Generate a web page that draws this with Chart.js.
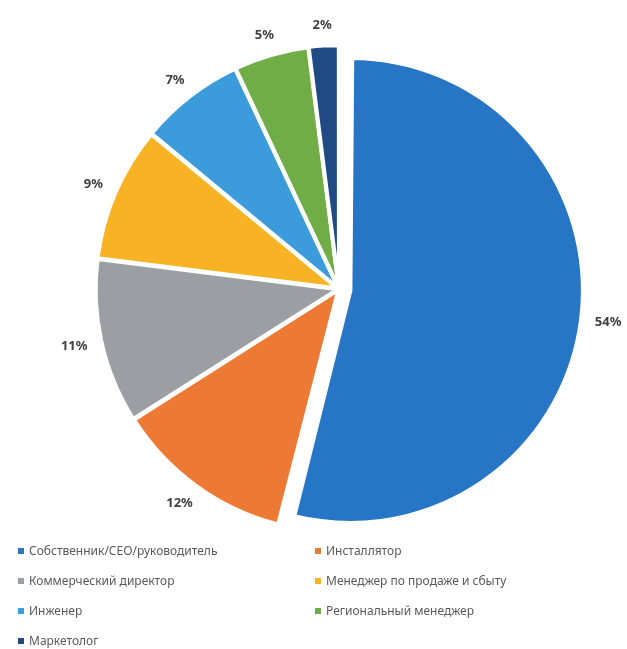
<!DOCTYPE html>
<html>
<head>
<meta charset="utf-8">
<script src="https://cdn.jsdelivr.net/npm/chart.js@4/dist/chart.umd.min.js"></script>
<style>
  body { margin: 0; background: #fff; }
  #wrap { position: relative; width: 627px; height: 649px; }
  #legend { position: absolute; left: 18px; top: 541px; width: 600px; display: grid; grid-template-columns: 297px 300px; row-gap: 11px; font-family: "Noto Sans", sans-serif; font-size: 12px; color: #595959; }
  #legend div { display: flex; align-items: center; height: 19px; }
  #legend span { display: inline-block; width: 6px; height: 6px; margin-right: 5px; }
</style>
</head>
<body>
<div id="wrap">
  <canvas id="pieChart"></canvas>
  <div id="legend"></div>
</div>
<script>
const labels = ['Собственник/CEO/руководитель', 'Инсталлятор', 'Коммерческий директор', 'Менеджер по продаже и сбыту', 'Инженер', 'Региональный менеджер', 'Маркетолог'];
const shares = [54, 12, 11, 9, 7, 5, 2];
const colors = ['#2775c5', '#ec7a34', '#9b9ea2', '#f7b324', '#3c9cdb', '#70ad47', '#1f4a84'];
const offsets = [46, 4, 4, 4, 4, 4, 4];

// выдвинутый сектор в оригинале чуть меньше остальных
const shrinkExploded = {
    id: 'shrinkExploded',
    afterDatasetUpdate(chart) {
        const arc = chart.getDatasetMeta(0).data[0];
        if (arc) arc.outerRadius -= 21;
    }
};

// подписи с процентами снаружи круга
const outsideLabels = {
    id: 'outsideLabels',
    afterDatasetsDraw(chart) {
        const ctx = chart.ctx;
        const meta = chart.getDatasetMeta(0);
        ctx.save();
        ctx.font = 'bold 13px "Noto Sans", sans-serif';
        ctx.fillStyle = '#404040';
        ctx.textAlign = 'center';
        ctx.textBaseline = 'middle';
        meta.data.forEach((arc, i) => {
            const p = arc.getProps(['x', 'y', 'startAngle', 'endAngle', 'outerRadius']);
            const mid = (p.startAngle + p.endAngle) / 2;
            const dx = Math.cos(mid), dy = Math.sin(mid);
            const txt = shares[i] + '%';
            const w = ctx.measureText(txt).width, h = 13;
            const r = p.outerRadius + offsets[i] / 2 + 14;
            const x = p.x + dx * r + dx * w / 2;
            const y = p.y + dy * r + dy * h / 2;
            ctx.fillText(txt, x, y);
        });
        ctx.restore();
    }
};

new Chart(document.getElementById('pieChart'), {
    type: 'pie',
    data: {
        labels: labels,
        datasets: [{
            data: shares,
            backgroundColor: colors,
            borderColor: '#ffffff',
            borderWidth: 4,
            offset: offsets
        }]
    },
    options: {
        responsive: true,
        maintainAspectRatio: false,
        animation: false,
        radius: 242,
        layout: { padding: { left: 51, right: 0, top: 0, bottom: 71 } },
        plugins: { legend: { display: false }, tooltip: { enabled: false } }
    },
    plugins: [shrinkExploded, outsideLabels]
});

const legendBox = document.getElementById('legend');
labels.forEach((name, i) => {
    const item = document.createElement('div');
    item.innerHTML = '<span style="background:' + colors[i] + '"></span>' + name;
    legendBox.appendChild(item);
});
</script>
</body>
</html>
